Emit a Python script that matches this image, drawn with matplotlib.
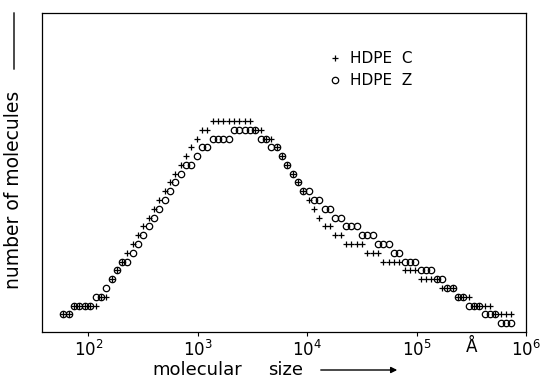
import numpy as np
import matplotlib
matplotlib.use("Agg")
import matplotlib.pyplot as plt
from matplotlib.transforms import blended_transform_factory

plt.rcParams['font.family'] = ['DejaVu Sans']
plt.rcParams['mathtext.fontset'] = 'dejavusans'

# log10 of molecular size (Angstrom) for each plotted bin
log_size = [1.773, 1.822, 1.871, 1.919, 1.968, 2.017, 2.066, 2.114, 2.163, 2.212,
            2.261, 2.309, 2.358, 2.407, 2.455, 2.504, 2.553, 2.602, 2.650, 2.699,
            2.748, 2.796, 2.845, 2.894, 2.943, 2.991, 3.040, 3.089, 3.138, 3.186,
            3.235, 3.284, 3.332, 3.381, 3.430, 3.479, 3.527, 3.576, 3.625, 3.673,
            3.722, 3.771, 3.820, 3.868, 3.917, 3.966, 4.014, 4.063, 4.112, 4.161,
            4.209, 4.258, 4.307, 4.355, 4.404, 4.453, 4.502, 4.550, 4.599, 4.648,
            4.696, 4.745, 4.794, 4.843, 4.891, 4.940, 4.989, 5.037, 5.086, 5.135,
            5.184, 5.232, 5.281, 5.330, 5.378, 5.427, 5.476, 5.525, 5.573, 5.622,
            5.671, 5.719, 5.768, 5.817, 5.866]

# number of molecules (arbitrary units) - HDPE C (crosses)
hdpe_c = [2, 2, 3, 3, 3, 3, 3, 4, 4, 6,
          7, 8, 9, 10, 11, 12, 13, 14, 15, 16,
          17, 18, 19, 20, 21, 22, 23, 23, 24, 24,
          24, 24, 24, 24, 24, 24, 23, 23, 22, 22,
          21, 20, 19, 18, 17, 16, 15, 14, 13, 12,
          12, 11, 11, 10, 10, 10, 10, 9, 9, 9,
          8, 8, 8, 8, 7, 7, 7, 6, 6, 6,
          6, 5, 5, 5, 4, 4, 4, 3, 3, 3,
          3, 2, 2, 2, 2]

# number of molecules (arbitrary units) - HDPE Z (open circles)
hdpe_z = [2, 2, 3, 3, 3, 3, 4, 4, 5, 6,
          7, 8, 8, 9, 10, 11, 12, 13, 14, 15,
          16, 17, 18, 19, 19, 20, 21, 21, 22, 22,
          22, 22, 23, 23, 23, 23, 23, 22, 22, 21,
          21, 20, 19, 18, 17, 16, 16, 15, 15, 14,
          14, 13, 13, 12, 12, 12, 11, 11, 11, 10,
          10, 10, 9, 9, 8, 8, 8, 7, 7, 7,
          6, 6, 5, 5, 4, 4, 3, 3, 3, 2,
          2, 2, 1, 1, 1]

tick_exps = [2, 3, 4, 5, 6]
tick_labels = [r'$10^{%d}$' % e for e in tick_exps]

W, H = 543, 381
fig = plt.figure(figsize=(W / 100, H / 100), dpi=100)
left, right, bottom, top = 41.7, 526.0, 332.0, 12.5
ax = fig.add_axes([left / W, (H - bottom) / H, (right - left) / W, (bottom - top) / H])

sizes = 10 ** np.array(log_size)
ax.plot(sizes, hdpe_c, linestyle='none', marker='+', markersize=4.2,
        markeredgewidth=0.9, color='black', label='HDPE  C')
ax.plot(sizes, hdpe_z, linestyle='none', marker='o', markersize=4.6,
        markerfacecolor='none', markeredgewidth=0.9, markeredgecolor='black',
        label='HDPE  Z')

ax.set_xscale('log')
ax.set_xlim(10 ** 1.574, 1e6)
ax.set_ylim(0, 36.33)
ax.set_xticks([10.0 ** e for e in tick_exps])
ax.set_xticklabels(tick_labels, fontsize=12)
ax.xaxis.set_minor_locator(matplotlib.ticker.NullLocator())
ax.tick_params(axis='x', direction='out', length=3, width=0.8, pad=3)
ax.set_yticks([])
for s in ax.spines.values():
    s.set_linewidth(0.9)

leg = ax.legend(loc='upper left', bbox_to_anchor=(0.593, 0.878), frameon=False,
                fontsize=11, handlelength=0.8, handletextpad=0.6,
                labelspacing=0.45, borderpad=0, borderaxespad=0)

# Angstrom unit marker among the tick labels
tr = blended_transform_factory(ax.transData, fig.transFigure)
ax.text(10 ** 5.5, (H - 347) / H, 'Å', transform=tr, ha='center', va='center',
        fontsize=12)

# axis labels with arrows
fig.text(152 / W, (H - 370) / H, 'molecular', ha='left', va='center', fontsize=13)
fig.text(268 / W, (H - 370) / H, 'size', ha='left', va='center', fontsize=13)
ax.annotate('', xy=(400 / W, (H - 370) / H), xytext=(318 / W, (H - 370) / H),
            xycoords='figure fraction', textcoords='figure fraction',
            arrowprops=dict(arrowstyle='-|>', lw=1.0, color='black', mutation_scale=9))

fig.text(14 / W, (H - 190) / H, 'number of molecules', rotation=90,
         ha='center', va='center', fontsize=13.5)
ax.annotate('', xy=(14 / W, (H - 10) / H), xytext=(14 / W, (H - 72) / H),
            xycoords='figure fraction', textcoords='figure fraction',
            arrowprops=dict(arrowstyle='-', lw=1.0, color='black'))

fig.savefig('out.png', dpi=100)
